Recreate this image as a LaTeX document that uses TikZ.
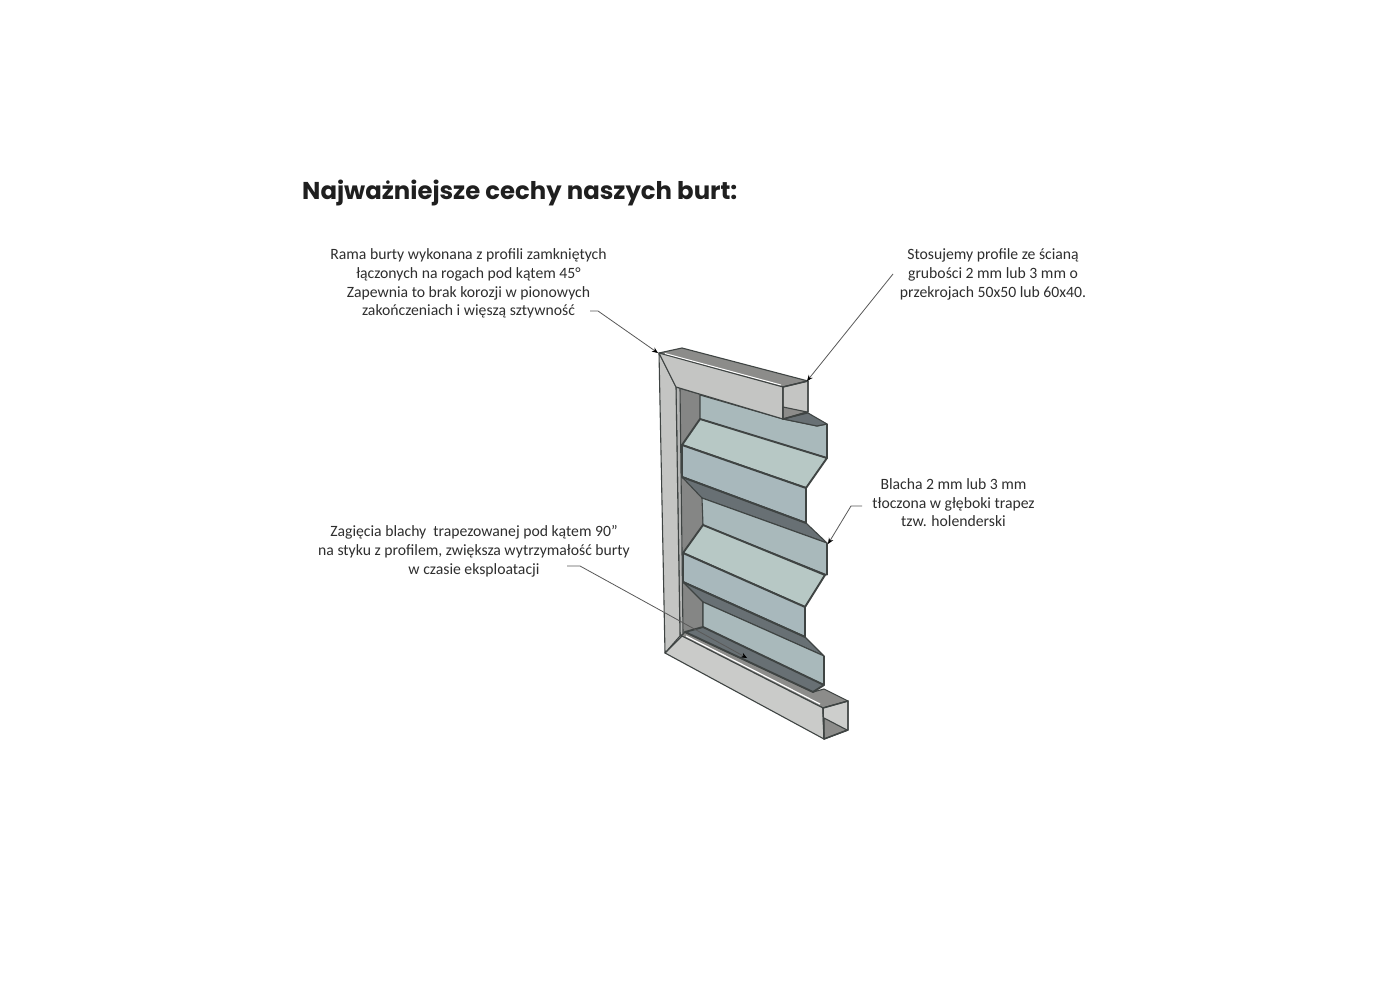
\documentclass[tikz,border=0pt]{standalone}
\usepackage{fontspec}
\setmainfont{Carlito}
\newfontfamily\titlefont{Poppins}
\usetikzlibrary{arrows.meta}
\definecolor{edge}{HTML}{3F4443}
\definecolor{frameL}{HTML}{C4C5C3}
\definecolor{frameT}{HTML}{8C8C8A}
\definecolor{wall}{HTML}{858685}
\definecolor{back}{HTML}{A9B9BB}
\definecolor{light}{HTML}{B7C8C5}
\definecolor{mid}{HTML}{A8B8BC}
\definecolor{slant}{HTML}{687074}
\definecolor{txt}{HTML}{2E2E2E}
\tikzset{
  x=1pt,y=-1pt,
  label text/.style={align=center,font=\fontsize{15.7}{18.7}\selectfont,text=txt,inner sep=0pt},
  leader/.style={draw=black!65,line width=0.8pt,-{Stealth[length=6pt,width=5pt,black]}},
  part/.style={draw=edge,line width=1.1pt,line join=round},
  seam/.style={draw=edge,line width=1.9pt,line join=round},
}
\begin{document}
\begin{tikzpicture}
\useasboundingbox (0,0) rectangle (1384,984);
\fill[white] (0,0) rectangle (1384,984);
\node[anchor=base west,inner sep=0pt,font=\titlefont\bfseries\fontsize{24.35}{29}\selectfont,text=black!88] (title) at (302,200) {Najważniejsze cechy naszych burt:};

% inner wall behind the sheet
\fill[wall,part] (679,388) -- (703,395) -- (703,630) -- (681,636) -- cycle;
% sheet panels
\fill[back,part] (700,395) -- (783,419) -- (817,426) -- (827,424) -- (827,458) -- (700,419) -- cycle;
\fill[slant,part] (783,419) -- (808,413) -- (827,424) -- (817,426) -- cycle;
\fill[light,seam] (700,419) -- (827,458) -- (806,488) -- (682,445) -- cycle;
\fill[mid,seam] (682,445) -- (806,488) -- (806,523) -- (682,477) -- cycle;
\fill[slant,part] (682,477) -- (806,523) -- (827,543) -- (702,498) -- cycle;
\fill[back,part] (702,498) -- (827,543) -- (827,575) -- (703,525) -- cycle;
\fill[light,seam] (703,525) -- (825,575) -- (805,607) -- (683,553) -- cycle;
\fill[mid,seam] (683,553) -- (805,607) -- (805,637) -- (683,582) -- cycle;
\fill[slant,part] (683,582) -- (805,637) -- (824,656) -- (703,602) -- cycle;
\fill[back,part] (703,602) -- (824,656) -- (824,685) -- (703,627) -- cycle;
\draw[seam] (827,424) -- (827,458);
\draw[seam] (806,488) -- (806,523);
\draw[seam] (682,477) -- (806,523);
\draw[seam] (827,543) -- (827,575);
\draw[seam] (805,607) -- (805,637);
\draw[seam] (683,582) -- (805,637);
\draw[seam] (824,656) -- (824,685);

% bottom bar
\fill[frameT,part] (681,636) -- (685,632) -- (813,692) -- (824,689) -- (848,701) -- (823,708) -- cycle;
\fill[slant,seam] (703,627) -- (824,685) -- (813,692) -- (685,632) -- cycle;
\fill[frameL!90!white,part] (665,653) -- (682,636) -- (823,708) -- (824,739) -- cycle;
\draw[white,line width=1.2pt] (686,636) -- (820,704);
\fill[frameL!85!white,part] (823,708) -- (848,701) -- (848,730) -- (824,739) -- cycle;
\fill[frameT,part] (824,718) -- (847,730) -- (824,739) -- cycle;
\draw[part,line width=1.4pt] (823,708) -- (848,701) -- (848,730) -- (824,739) -- cycle;

% left post
\fill[frameL!75!wall,part] (676,387) -- (680,388) -- (683,634) -- (680,636) -- cycle;
\fill[frameL,part] (659,353) -- (676,387) -- (680,636) -- (665,653) -- cycle;
% top bar
\fill[frameT,part] (659,353) -- (682,348) -- (808,381) -- (783,387) -- cycle;
\fill[frameL,part] (659,353) -- (783,387) -- (783,419) -- (676,387) -- cycle;
\draw[white,line width=1pt] (665,353.5) -- (781,385);
\fill[frameL,part] (783,387) -- (808,381) -- (808,412) -- (783,419) -- cycle;
\fill[frameT,part] (783,407) -- (807,412) -- (783,419) -- cycle;
\draw[part,line width=1.4pt] (783,387) -- (808,381) -- (808,412) -- (783,419) -- cycle;

% labels
\node[label text] (frameNote) at (468.5,283.5) {Rama burty wykonana z profili zamkniętych\\łączonych na rogach pod kątem 45°\\Zapewnia to brak korozji w pionowych\\zakończeniach i więszą sztywność};
\node[label text] (wallNote) at (993,274.5) {Stosujemy profile ze ścianą\\grubości 2 mm lub 3 mm o\\przekrojach 50x50 lub 60x40.};
\node[label text] (sheetNote) at (953.5,502.8) {Blacha 2 mm lub 3 mm\\tłoczona w głęboki trapez\\tzw. holenderski};
\node[label text] (foldNote) at (474,551.5) {Zagięcia blachy\ \ trapezowanej pod kątem 90"\\na styku z profilem, zwiększa wytrzymałość burty\\w czasie eksploatacji};

% leaders
\coordinate (frameTail) at (590,311);
\coordinate (frameElbow) at (598,311);
\coordinate (frameEnd) at (658,353);
\coordinate (wallTail) at (893,274);
\coordinate (wallEnd) at (807,381);
\coordinate (sheetTail) at (862,506);
\coordinate (sheetElbow) at (851,506);
\coordinate (sheetEnd) at (828,544);
\coordinate (foldTail) at (567,566);
\coordinate (foldElbow) at (580,566);
\coordinate (foldEnd) at (747,658);
\draw[leader] (frameTail) -- (frameElbow) -- (frameEnd);
\draw[leader] (wallTail) -- (wallEnd);
\draw[leader] (sheetTail) -- (sheetElbow) -- (sheetEnd);
\draw[leader] (foldTail) -- (foldElbow) -- (foldEnd);
\end{tikzpicture}
\end{document}
